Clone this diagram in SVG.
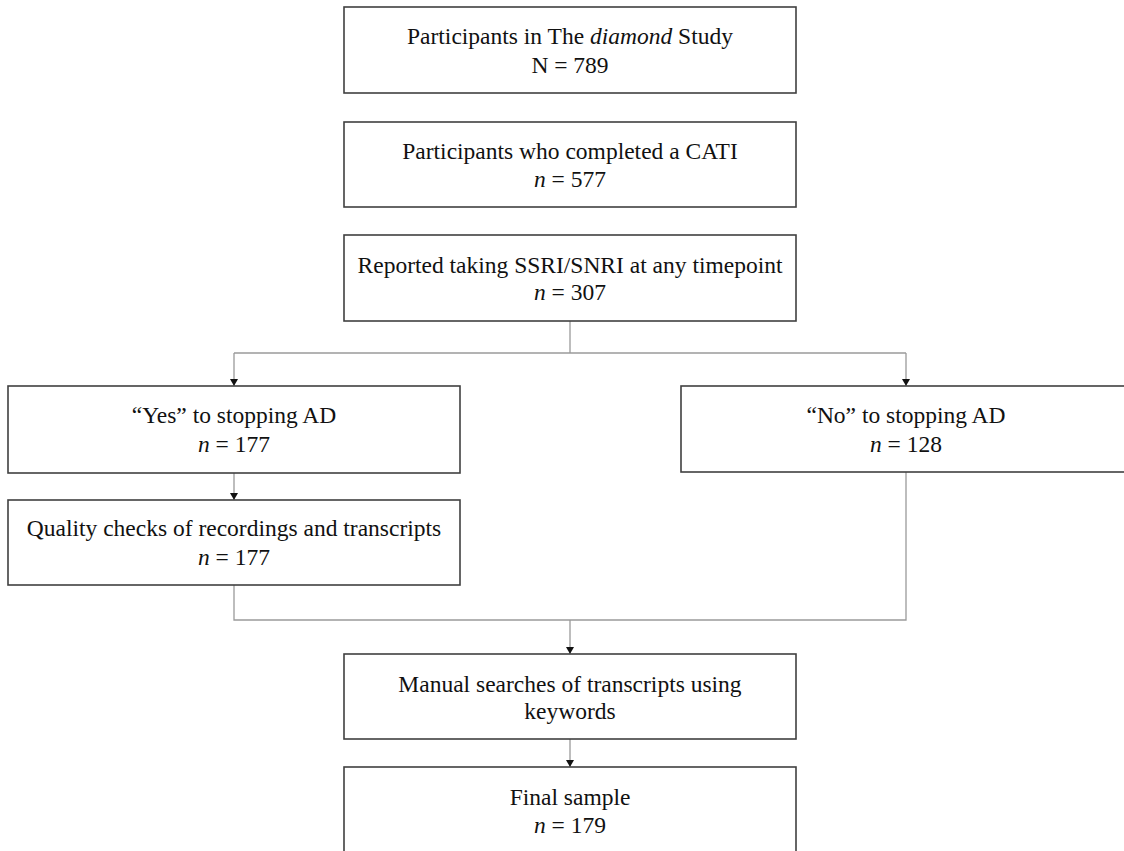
<svg xmlns="http://www.w3.org/2000/svg" width="1124" height="851" viewBox="0 0 1124 851">
<defs>
<style>
.box{fill:#fff;stroke:#404040;stroke-width:1.6}
.t{font-family:"Liberation Serif","Times New Roman",serif;font-size:23.5px;fill:#111;text-anchor:middle}
.i{font-style:italic}
.c{fill:none;stroke:#9a9a9a;stroke-width:1.3}
</style>
<marker id="ah" markerWidth="8" markerHeight="8" refX="7" refY="4" orient="auto" markerUnits="userSpaceOnUse" viewBox="0 0 8 8">
<path d="M0,0 L7,4 L0,8 Z" fill="#111"/>
</marker>
</defs>
<rect width="1124" height="851" fill="#fff"/>
<g id="connectors">
<path class="c" d="M570,321 V353 M234,353 H906"/>
<path class="c" d="M234,353 V386" marker-end="url(#ah)"/>
<path class="c" d="M906,353 V386" marker-end="url(#ah)"/>
<path class="c" d="M234,473 V500" marker-end="url(#ah)"/>
<path class="c" d="M234,585 V620 H906 V472"/>
<path class="c" d="M570,620 V654" marker-end="url(#ah)"/>
<path class="c" d="M570,739 V767" marker-end="url(#ah)"/>
</g>
<g id="n1">
<rect class="box" x="344" y="7" width="452" height="86"/>
<text class="t" x="570" y="44">Participants in The <tspan class="i">diamond</tspan> Study</text>
<text class="t" x="570" y="73">N = 789</text>
</g>
<g id="n2">
<rect class="box" x="344" y="122" width="452" height="85"/>
<text class="t" x="570" y="159">Participants who completed a CATI</text>
<text class="t" x="570" y="187"><tspan class="i">n</tspan> = 577</text>
</g>
<g id="n3">
<rect class="box" x="344" y="235" width="452" height="86"/>
<text class="t" x="570" y="273">Reported taking SSRI/SNRI at any timepoint</text>
<text class="t" x="570" y="300"><tspan class="i">n</tspan> = 307</text>
</g>
<g id="n4">
<rect class="box" x="8" y="386" width="452" height="87"/>
<text class="t" x="234" y="423">“Yes” to stopping AD</text>
<text class="t" x="234" y="452"><tspan class="i">n</tspan> = 177</text>
</g>
<g id="n5">
<rect class="box" x="681" y="386" width="450" height="86"/>
<text class="t" x="906" y="423">“No” to stopping AD</text>
<text class="t" x="906" y="452"><tspan class="i">n</tspan> = 128</text>
</g>
<g id="n6">
<rect class="box" x="8" y="500" width="452" height="85"/>
<text class="t" x="234" y="536">Quality checks of recordings and transcripts</text>
<text class="t" x="234" y="565"><tspan class="i">n</tspan> = 177</text>
</g>
<g id="n7">
<rect class="box" x="344" y="654" width="452" height="85"/>
<text class="t" x="570" y="692">Manual searches of transcripts using</text>
<text class="t" x="570" y="719">keywords</text>
</g>
<g id="n8">
<rect class="box" x="344" y="767" width="452" height="90"/>
<text class="t" x="570" y="805">Final sample</text>
<text class="t" x="570" y="833"><tspan class="i">n</tspan> = 179</text>
</g>
</svg>
